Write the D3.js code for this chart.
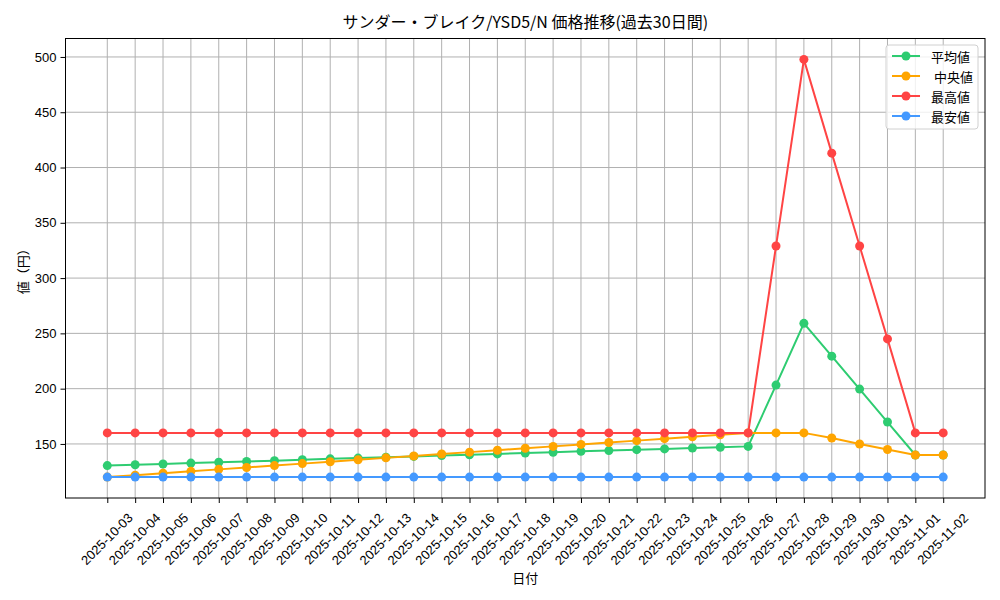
<!DOCTYPE html>
<html><head><meta charset="utf-8">
<script src="https://cdn.jsdelivr.net/npm/d3@7"></script>
<style>body{margin:0;background:#fff;} svg{display:block;font-family:"Noto Sans CJK JP","Noto Sans",sans-serif;}</style>
</head><body>
<svg id="c" width="1000" height="600"></svg>
<script>
const dates = ["2025-10-03","2025-10-04","2025-10-05","2025-10-06","2025-10-07","2025-10-08","2025-10-09","2025-10-10","2025-10-11","2025-10-12","2025-10-13","2025-10-14","2025-10-15","2025-10-16","2025-10-17","2025-10-18","2025-10-19","2025-10-20","2025-10-21","2025-10-22","2025-10-23","2025-10-24","2025-10-25","2025-10-26","2025-10-27","2025-10-28","2025-10-29","2025-10-30","2025-10-31","2025-11-01","2025-11-02"];
const avgValues = [130.4,131.2,131.9,132.7,133.4,134.2,134.9,135.7,136.5,137.2,138.0,138.7,139.5,140.2,141.0,141.8,142.5,143.3,144.0,144.8,145.5,146.3,147.0,147.8,203.2,259.1,229.4,199.6,169.8,140,140];
const medValues = [120,121.7,123.5,125.2,127.0,128.7,130.4,132.2,133.9,135.7,137.4,139.1,140.9,142.6,144.3,146.1,147.8,149.6,151.3,153.0,154.8,156.5,158.3,160,160,160,155.4,150,145,140,140];
const maxValues = [160,160,160,160,160,160,160,160,160,160,160,160,160,160,160,160,160,160,160,160,160,160,160,160,329,497.8,413,329,245,160,160];
const minValues = [120,120,120,120,120,120,120,120,120,120,120,120,120,120,120,120,120,120,120,120,120,120,120,120,120,120,120,120,120,120,120];
const yTicks = [150,200,250,300,350,400,450,500];
const seriesNames = ["平均値"," 中央値","最高値","最安値"];
const seriesColors = ["#2ecc71","#ffa500","#ff4444","#4499ff"];
const seriesValues = [avgValues, medValues, maxValues, minValues];

const svg = d3.select("#c");
const L = 65.5, R = 985, T = 38.5, B = 498;
const n = dates.length;
const x = d3.scaleLinear().domain([-1.5, n - 1 + 1.5]).range([L, R]);
const allV = seriesValues.flat();
const lo = d3.min(allV), hi = d3.max(allV), pad = (hi - lo) * 0.05;
const y = d3.scaleLinear().domain([lo - pad, hi + pad]).range([B, T]);

// grid
const g = svg.append("g");
g.selectAll(".vg").data(dates).join("line")
  .attr("x1", (d,i)=>x(i)).attr("x2", (d,i)=>x(i)).attr("y1", T).attr("y2", B)
  .attr("stroke", "#b0b0b0").attr("stroke-width", 1);
g.selectAll(".hg").data(yTicks).join("line")
  .attr("x1", L).attr("x2", R).attr("y1", d=>y(d)).attr("y2", d=>y(d))
  .attr("stroke", "#b0b0b0").attr("stroke-width", 1);

// axes
const xAxis = d3.axisBottom(x).tickValues(d3.range(n)).tickFormat(i=>dates[i]).tickSize(5).tickPadding(3);
const xa = svg.append("g").attr("transform", `translate(0,${B})`).call(xAxis);
xa.select(".domain").remove();
xa.selectAll("line").attr("stroke", "#000");
xa.selectAll("text").attr("font-size", 13).attr("fill", "#000")
  .attr("text-anchor", "middle").attr("dy", null)
  .attr("transform", "translate(-1,41) rotate(-45)").attr("y", 0).attr("x", 0)
  .attr("dominant-baseline", "central");

const yAxis = d3.axisLeft(y).tickValues(yTicks).tickSize(5).tickPadding(4);
const ya = svg.append("g").attr("transform", `translate(${L},0)`).call(yAxis);
ya.select(".domain").remove();
ya.selectAll("line").attr("stroke", "#000");
ya.selectAll("text").attr("font-size", 13).attr("fill", "#000");

// series
const line = d3.line().x((d,i)=>x(i)).y(d=>y(d));
seriesValues.forEach((vals, k) => {
  const sg = svg.append("g");
  sg.append("path").attr("d", line(vals)).attr("fill", "none")
    .attr("stroke", seriesColors[k]).attr("stroke-width", 2);
  sg.selectAll("circle").data(vals).join("circle")
    .attr("cx", (d,i)=>x(i)).attr("cy", d=>y(d)).attr("r", 4.5)
    .attr("fill", seriesColors[k]);
});

// frame
svg.append("rect").attr("x", L).attr("y", T).attr("width", R - L).attr("height", B - T)
  .attr("fill", "none").attr("stroke", "#000").attr("stroke-width", 1);

// title & labels
svg.append("text").attr("x", (L+R)/2).attr("y", 28).attr("text-anchor", "middle")
  .attr("font-size", 16).text("サンダー・ブレイク/YSD5/N 価格推移(過去30日間)");
svg.append("text").attr("x", (L+R)/2).attr("y", 583).attr("text-anchor", "middle")
  .attr("font-size", 13).text("日付");
svg.append("text").attr("transform", `translate(22,${(T+B)/2}) rotate(-90)`).attr("text-anchor", "middle")
  .attr("dominant-baseline", "central").attr("font-size", 13).text("値（円）");

// legend
const lg = svg.append("g").attr("transform", "translate(886,45)");
lg.append("rect").attr("x", 0).attr("y", 0).attr("width", 92).attr("height", 84).attr("rx", 3)
  .attr("fill", "#fff").attr("fill-opacity", 0.8).attr("stroke", "#d0d0d0");
seriesNames.forEach((nm, k) => {
  const yy = 11 + k * 20;
  lg.append("line").attr("x1", 6).attr("x2", 34).attr("y1", yy).attr("y2", yy)
    .attr("stroke", seriesColors[k]).attr("stroke-width", 2);
  lg.append("circle").attr("cx", 20).attr("cy", yy).attr("r", 4.5).attr("fill", seriesColors[k]);
  lg.append("text").attr("x", 45).attr("y", yy).attr("dominant-baseline", "central")
    .attr("font-size", 13).attr("xml:space", "preserve").style("white-space", "pre").text(nm);
});
</script>
</body></html>
